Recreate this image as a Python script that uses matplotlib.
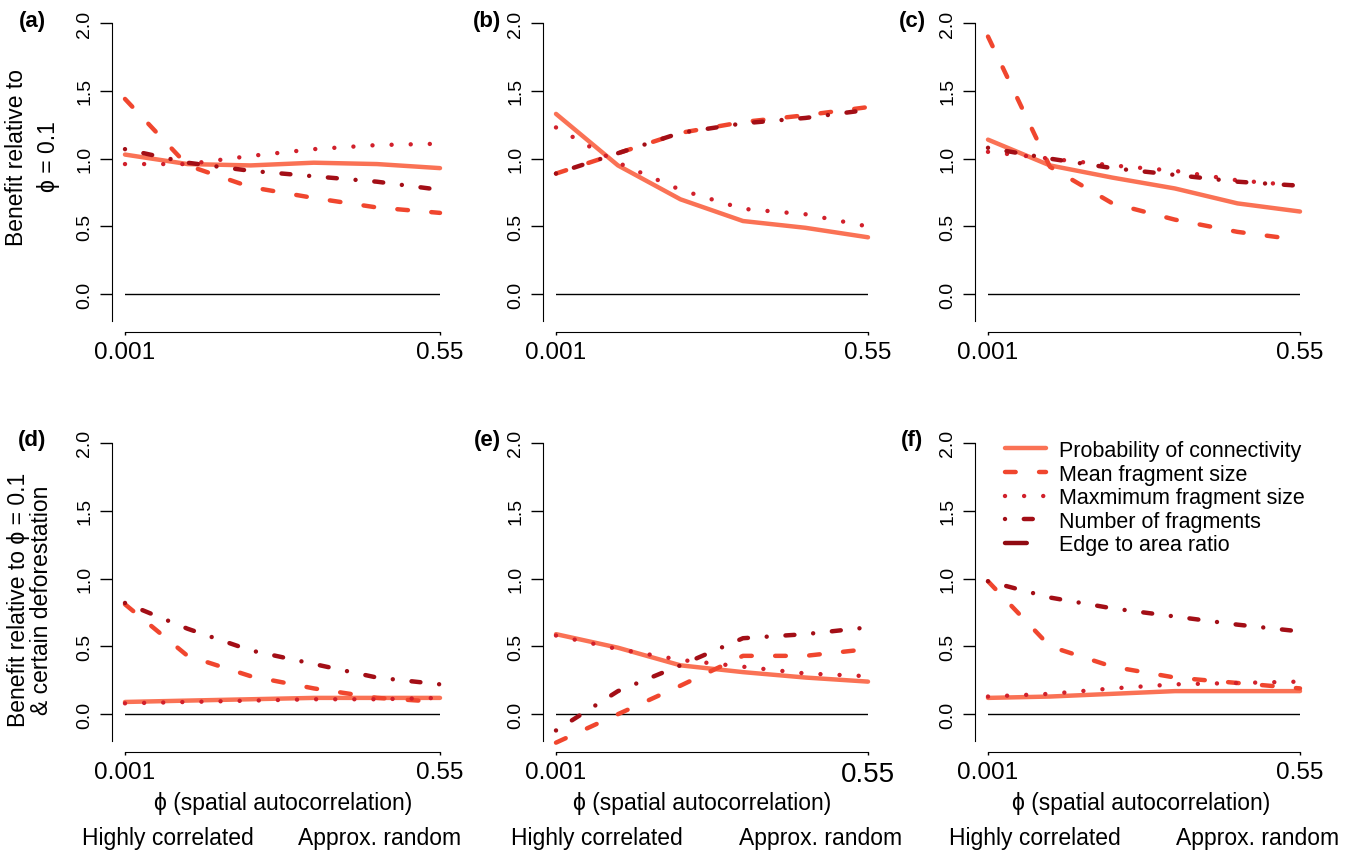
import matplotlib
matplotlib.use("Agg")
import matplotlib.pyplot as plt
from matplotlib.lines import Line2D

plt.rcParams['font.family'] = ['Liberation Sans', 'DejaVu Sans']

W, H = 1358, 854

# phi values (spatial autocorrelation), evenly spaced on the plot
phi = [0.001, 0.11, 0.22, 0.33, 0.44, 0.55]

# benefit values per panel
prob_a = [1.03, 0.96, 0.95, 0.97, 0.96, 0.93]
mean_a = [1.44, 0.95, 0.79, 0.71, 0.64, 0.60]
max_a = [0.96, 0.96, 1.02, 1.07, 1.10, 1.11]
num_a = [1.07, 0.97, 0.91, 0.87, 0.83, 0.77]

prob_b = [1.33, 0.95, 0.70, 0.54, 0.49, 0.42]
mean_b = [0.89, 1.04, 1.19, 1.27, 1.32, 1.38]
max_b = [1.23, 0.97, 0.77, 0.63, 0.59, 0.50]
num_b = [0.89, 1.04, 1.19, 1.26, 1.30, 1.36]

prob_c = [1.14, 0.95, 0.86, 0.78, 0.67, 0.61]
mean_c = [1.90, 0.94, 0.67, 0.55, 0.46, 0.40]
max_c = [1.05, 1.00, 0.95, 0.91, 0.84, 0.80]
num_c = [1.08, 1.00, 0.93, 0.88, 0.83, 0.80]

prob_d = [0.09, 0.10, 0.11, 0.12, 0.12, 0.12]
mean_d = [0.81, 0.43, 0.28, 0.19, 0.12, 0.09]
max_d = [0.08, 0.09, 0.10, 0.11, 0.11, 0.12]
num_d = [0.82, 0.63, 0.47, 0.37, 0.27, 0.22]

prob_e = [0.59, 0.49, 0.36, 0.31, 0.27, 0.24]
mean_e = [-0.21, 0.00, 0.21, 0.43, 0.43, 0.48]
max_e = [0.58, 0.48, 0.40, 0.35, 0.30, 0.28]
num_e = [-0.12, 0.17, 0.36, 0.56, 0.59, 0.64]

prob_f = [0.12, 0.13, 0.15, 0.17, 0.17, 0.17]
mean_f = [0.98, 0.50, 0.35, 0.27, 0.23, 0.19]
max_f = [0.13, 0.15, 0.19, 0.22, 0.23, 0.24]
num_f = [0.98, 0.86, 0.78, 0.72, 0.66, 0.61]

panels = ["(a)", "(b)", "(c)", "(d)", "(e)", "(f)"]
series_names = ["Probability of connectivity", "Mean fragment size",
                "Maxmimum fragment size", "Number of fragments",
                "Edge to area ratio"]

data = [
    (prob_a, mean_a, max_a, num_a),
    (prob_b, mean_b, max_b, num_b),
    (prob_c, mean_c, max_c, num_c),
    (prob_d, mean_d, max_d, num_d),
    (prob_e, mean_e, max_e, num_e),
    (prob_f, mean_f, max_f, num_f),
]

colors = ['#FA7255', '#F0462E', '#D1202B', '#A30E16', '#900A12']
styles = ['-', (0, (2.4, 5.26)), (0, (0.001, 4.3)),
          (0, (0.001, 4.23, 2.02, 4.23)), (0, (4.9, 5.0))]
lw = 3.2

lefts = [125, 556, 988]
widths = [315, 312, 312]
tops = [24, 443.9]
hgt = 298.4

fig = plt.figure(figsize=(W / 100, H / 100), dpi=100)

axes = []
for i in range(6):
    r, c = divmod(i, 3)
    ax = fig.add_axes([lefts[c] / W, 1 - (tops[r] + hgt) / H, widths[c] / W, hgt / H])
    ax.set_xlim(0.001, 0.55)
    ax.set_ylim(-0.2, 2.0)
    ax.patch.set_visible(False)
    for s in ['top', 'right']:
        ax.spines[s].set_visible(False)
    ax.spines['left'].set_position(('outward', 9.4))
    ax.spines['bottom'].set_position(('outward', 7.6))
    ax.spines['left'].set_bounds(-0.2, 2.0)
    ax.spines['bottom'].set_bounds(0.001, 0.55)
    ax.set_yticks([0, 0.5, 1.0, 1.5, 2.0])
    ax.set_yticklabels(["0.0", "0.5", "1.0", "1.5", "2.0"], rotation=90, va='center')
    ax.set_xticks([0.001, 0.55])
    ax.set_xticklabels(["0.001", "0.55"])
    ax.tick_params(axis='y', length=8.5, width=1, labelsize=14, pad=5)
    ax.tick_params(axis='x', length=2.5, width=1, labelsize=17.5, pad=4)

    ax.plot([0.001, 0.55], [0, 0], color='black', lw=1)

    for k, vals in enumerate(data[i]):
        ax.plot(phi, vals, color=colors[k], linestyle=styles[k], lw=lw,
                solid_capstyle='round', dash_capstyle='round', clip_on=False)
    axes.append(ax)

# panel (e) has a larger right tick label
axes[4].get_xticklabels()[1].set_fontsize(20)

label_pos = [(32, 22), (487, 22), (912, 22), (32, 441), (487, 441), (912, 441)]
for lab, (x, y) in zip(panels, label_pos):
    fig.text(x / W, 1 - y / H, lab, fontsize=16, fontweight='bold', ha='center', va='center')

fig.text(33 / W, 1 - 157 / H, "Benefit relative to\n\u03d5 = 0.1", rotation=90,
         ha='center', va='center', multialignment='center', fontsize=16.5, linespacing=1.5)
fig.text(30 / W, 1 - 600 / H, "Benefit relative to \u03d5 = 0.1\n& certain deforestation",
         rotation=90, ha='center', va='center', multialignment='center',
         fontsize=16.5, linespacing=1.05)

for xc in [283, 702, 1141]:
    fig.text(xc / W, 1 - 804 / H, "\u03d5 (spatial autocorrelation)", fontsize=16.5,
             ha='center', va='center')

for xh, xr in [(168, 380), (597, 821), (1035, 1258)]:
    fig.text(xh / W, 1 - 839 / H, "Highly correlated", fontsize=16.5, ha='center', va='center')
    fig.text(xr / W, 1 - 839 / H, "Approx. random", fontsize=16.5, ha='center', va='center')

handles = [Line2D([], [], color=colors[k], linestyle=styles[k], lw=lw,
                  solid_capstyle='round', dash_capstyle='round') for k in range(5)]
fig.legend(handles, series_names, loc='upper left', bbox_to_anchor=(1005 / W, 1 - 441 / H),
           frameon=False, fontsize=15.5, handlelength=1.9, handletextpad=0.6,
           labelspacing=0.12, borderpad=0, borderaxespad=0)

fig.savefig("out.png", dpi=100)
